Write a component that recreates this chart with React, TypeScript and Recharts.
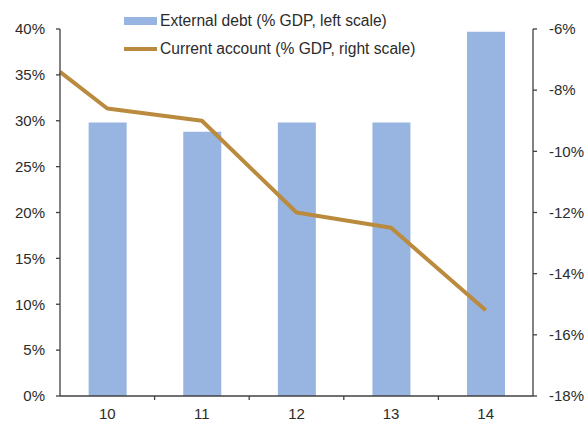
import {
  ComposedChart, Bar, Line, XAxis, YAxis, Legend,
} from "recharts";

// years on the category axis; 9.5 is the left plot edge where the line enters
const years = [10, 11, 12, 13, 14];
const externalDebt = [29.8, 28.8, 29.8, 29.8, 39.7];
const currentAccount = [-8.6, -9.0, -12.0, -12.5, -15.2];
const currentAccountAtLeftEdge = -7.4;

const leftTicks = [0, 5, 10, 15, 20, 25, 30, 35, 40];
const rightTicks = [-18, -16, -14, -12, -10, -8, -6];
const xTicks = [10, 10.5, 11, 11.5, 12, 12.5, 13, 13.5, 14];

const FONT = '"Liberation Sans", Arial, sans-serif';
const TEXT = "#2b2b2b";
const AXIS = "#404040";
const BAR = "#97B5E0";
const LINE = "#BA8B3E";
const TICK_SIZE = 4;
const TICK_MARGIN = 8;

const rows = [
  { x: 9.5, debt: null as number | null, ca: currentAccountAtLeftEdge },
  ...years.map((y, i) => ({ x: y, debt: externalDebt[i], ca: currentAccount[i] })),
];

const YearTick = (props: any) => {
  const { x, y, payload } = props;
  const v = payload.value as number;
  if (Number.isInteger(v)) {
    return (
      <text x={x} y={y} dy="0.71em" textAnchor="middle" fontSize={15} fontFamily={FONT} fill={TEXT}>
        {v}
      </text>
    );
  }
  // category boundary tick mark
  return <line x1={x} x2={x} y1={y - TICK_MARGIN - TICK_SIZE} y2={y - TICK_MARGIN} stroke={AXIS} strokeWidth={1.3} />;
};

const LegendContent = (props: any) => {
  const payload = [...((props.payload ?? []) as any[])].sort(
    (a, b) => (a.type === "line" ? 1 : 0) - (b.type === "line" ? 1 : 0),
  );
  return (
    <div style={{ fontFamily: FONT, fontSize: 15.6, color: TEXT }}>
      {payload.map((entry) => (
        <div key={entry.value} style={{ display: "flex", alignItems: "center", height: 28, whiteSpace: "nowrap" }}>
          <span
            style={{
              display: "inline-block", width: 33, marginRight: 3,
              height: entry.type === "line" ? 4 : 8,
              background: entry.color,
            }}
          />
          {entry.value}
        </div>
      ))}
    </div>
  );
};

const tickStyle = { fontSize: 15, fontFamily: FONT, fill: TEXT };

export default function App() {
  return (
    <div style={{ position: "absolute", left: 0, top: 0, background: "#fff" }}>
      <ComposedChart width={586} height={422} data={rows} margin={{ top: 29, right: 0, bottom: 0, left: 0 }}>
        <XAxis
          dataKey="x"
          type="number"
          domain={[9.5, 14.5]}
          ticks={xTicks}
          interval={0}
          height={26}
          tick={YearTick}
          tickLine={false}
          tickSize={TICK_SIZE}
          tickMargin={TICK_MARGIN}
          axisLine={{ stroke: AXIS, strokeWidth: 1.3 }}
        />
        <YAxis
          yAxisId="left"
          domain={[0, 40]}
          ticks={leftTicks}
          interval={0}
          width={60}
          tickFormatter={(v) => `${v}%`}
          tick={tickStyle}
          tickSize={TICK_SIZE}
          tickMargin={11}
          tickLine={{ stroke: AXIS, strokeWidth: 1.3 }}
          axisLine={{ stroke: AXIS, strokeWidth: 1.3 }}
        />
        <YAxis
          yAxisId="right"
          orientation="right"
          domain={[-18, -6]}
          ticks={rightTicks}
          interval={0}
          width={53}
          tickFormatter={(v) => `${v}%`}
          tick={tickStyle}
          tickSize={TICK_SIZE}
          tickMargin={12}
          tickLine={{ stroke: AXIS, strokeWidth: 1.3 }}
          axisLine={{ stroke: AXIS, strokeWidth: 1.3 }}
        />
        <Legend
          layout="vertical"
          align="center"
          verticalAlign="middle"
          content={LegendContent}
          wrapperStyle={{ top: 7, left: 124, width: "auto" }}
        />
        <Bar
          yAxisId="left"
          dataKey="debt"
          name="External debt (% GDP, left scale)"
          fill={BAR}
          barSize={38}
          legendType="rect"
          isAnimationActive={false}
        />
        <Line
          yAxisId="right"
          dataKey="ca"
          name="Current account (% GDP, right scale)"
          stroke={LINE}
          strokeWidth={4}
          dot={false}
          legendType="line"
          strokeLinejoin="round"
          isAnimationActive={false}
        />
      </ComposedChart>
    </div>
  );
}
